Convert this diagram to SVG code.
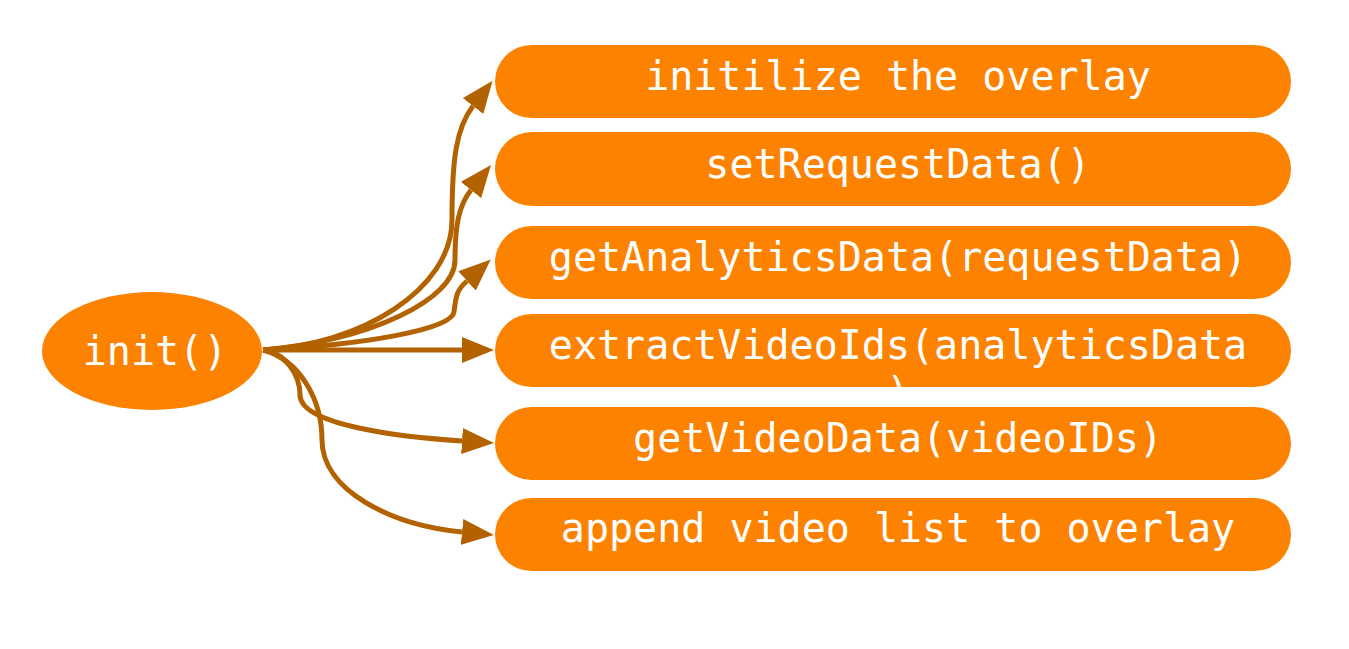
<svg xmlns="http://www.w3.org/2000/svg" width="1349" height="649" viewBox="0 0 1349 649">
<defs>
<style>
.box{fill:#fd8200;}
.lbl{font-family:"DejaVu Sans Mono","Liberation Mono",monospace;font-size:40px;fill:#ffffff;text-anchor:middle;}
.edge{fill:none;stroke:#b36200;stroke-width:5;marker-end:url(#arr);}
</style>
<marker id="arr" markerUnits="userSpaceOnUse" viewBox="0 0 32 26" markerWidth="32" markerHeight="26" refX="0" refY="13" orient="auto">
<path d="M0,0 L32,13 L0,26 z" fill="#b36200"/>
</marker>
</defs>
<rect width="1349" height="649" fill="#ffffff"/>
<g id="connectors">
<path class="edge" d="M263,350 C360,345 452,290 452,220 C452,160 456,128 473,106"/>
<path class="edge" d="M263,350 C370,340 455,300 455,260 C455,225 459,205 471,190"/>
<path class="edge" d="M263,350 C360,345 452,330 454,312 C456,295 457,290 467,281"/>
<path class="edge" d="M263,350 L462,350"/>
<path class="edge" d="M263,350 C285,352 300,375 300,395 C300,425 400,437 462,441"/>
<path class="edge" d="M263,350 C300,360 322,400 322,440 C322,490 390,525 462,532"/>
</g>
<g id="init">
<ellipse cx="152" cy="351" rx="110" ry="59" class="box"/>
<text x="155" y="365" class="lbl">init()</text>
</g>
<g id="n1">
<rect x="495" y="45" width="796" height="73" rx="36.5" class="box"/>
<text x="898" y="90" class="lbl">initilize the overlay</text>
</g>
<g id="n2">
<rect x="495" y="132" width="796" height="74" rx="37" class="box"/>
<text x="898" y="178" class="lbl">setRequestData()</text>
</g>
<g id="n3">
<rect x="495" y="226" width="796" height="73" rx="36.5" class="box"/>
<text x="898" y="271" class="lbl">getAnalyticsData(requestData)</text>
</g>
<g id="n4">
<rect x="495" y="314" width="796" height="73" rx="36.5" class="box"/>
<text x="898" y="359" class="lbl">extractVideoIds(analyticsData</text>
<text x="898" y="406" class="lbl">)</text>
</g>
<g id="n5">
<rect x="495" y="407" width="796" height="73" rx="36.5" class="box"/>
<text x="898" y="452" class="lbl">getVideoData(videoIDs)</text>
</g>
<g id="n6">
<rect x="495" y="498" width="796" height="73" rx="36.5" class="box"/>
<text x="898" y="542" class="lbl">append video list to overlay</text>
</g>
</svg>
